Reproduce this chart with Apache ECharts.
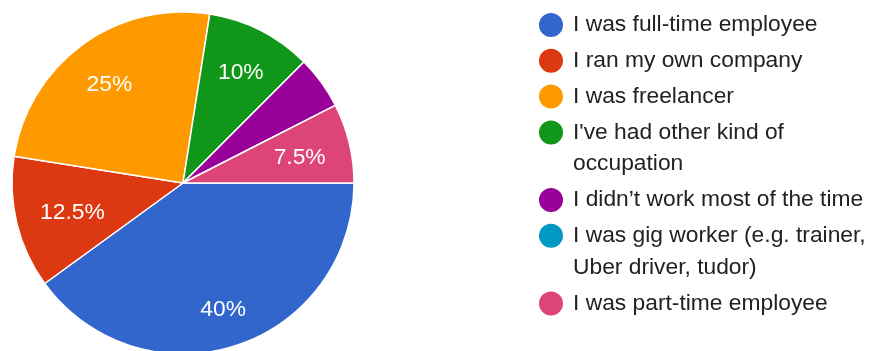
<!DOCTYPE html>
<html>
<head>
<meta charset="utf-8">
<script src="https://cdn.jsdelivr.net/npm/echarts@6/dist/echarts.min.js"></script>
<style>
  html, body { margin: 0; padding: 0; background: #ffffff; }
  #chart { width: 869px; height: 351px; }
</style>
</head>
<body>
<div id="chart"></div>
<script>
// Survey answers and their share of respondents (percent)
const categories = [
  'I was full-time employee',
  'I ran my own company',
  'I was freelancer',
  "I've had other kind of occupation",
  'I didn’t work most of the time',
  'I was gig worker (e.g. trainer, Uber driver, tudor)',
  'I was part-time employee'
];
const shares = [40, 12.5, 25, 10, 5, 0, 7.5];
const sliceColors = ['#3366cc', '#dc3912', '#ff9900', '#109618', '#990099', '#0099c6', '#dd4477'];

// Layout and typography
const PIE_CENTER = [183, 183];
const PIE_RADIUS = 171;
const FONT = '"Liberation Sans", Arial, sans-serif';
const FONT_SIZE = 22.8;
const LABEL_NUDGE_Y = 3;
const MIN_LABEL_SHARE = 0.06;

const LEGEND_LEFT = 539;
const LEGEND_FIRST_CENTER = 25;   // centre of the first legend marker
const LEGEND_STEP = 35.8;         // marker-to-marker distance for one-line entries
const LEGEND_LINE = 31.8;         // line height of legend text
const LEGEND_TEXT_WIDTH = 296;    // wrap width of legend text
const MARKER = 24;                // marker diameter
const MARKER_TEXT_SPACE = 34;     // marker left edge to text start (incl. 5px built-in gap)

const total = shares.reduce((a, b) => a + b, 0);

// Word-wrap legend text to the available width
const measureCtx = document.createElement('canvas').getContext('2d');
measureCtx.font = FONT_SIZE + 'px ' + FONT;
function wrapLines(text) {
  const words = text.split(' ');
  const lines = [];
  let line = '';
  words.forEach(w => {
    const trial = line ? line + ' ' + w : w;
    if (line && measureCtx.measureText(trial).width > LEGEND_TEXT_WIDTH) {
      lines.push(line);
      line = w;
    } else {
      line = trial;
    }
  });
  if (line) lines.push(line);
  return lines;
}

// Marker path: a circle at the top-left of a box as tall as the text block,
// so the marker sits beside the first line of a wrapped entry
function markerPath(boxHeight) {
  const r = MARKER / 2;
  const w = MARKER_TEXT_SPACE - 5;
  return 'path://M0,' + r +
    'A' + r + ',' + r + ',0,1,1,' + MARKER + ',' + r +
    'A' + r + ',' + r + ',0,1,1,0,' + r + 'Z' +
    'M' + w + ',' + boxHeight + 'L' + w + ',' + boxHeight + 'Z';
}

// One legend block per answer, stacked top to bottom
const legends = [];
let markerCenter = LEGEND_FIRST_CENTER;
categories.forEach((name, i) => {
  const lines = wrapLines(name);
  const boxHeight = MARKER + (lines.length - 1) * LEGEND_LINE;
  legends.push({
    orient: 'vertical',
    left: LEGEND_LEFT,
    top: markerCenter - LEGEND_LINE / 2,
    padding: 0,
    itemWidth: MARKER_TEXT_SPACE - 5,
    itemHeight: boxHeight,
    icon: markerPath(boxHeight),
    selectedMode: false,
    itemStyle: { borderWidth: 0 },
    formatter: () => lines.join('\n'),
    textStyle: {
      fontFamily: FONT,
      fontSize: FONT_SIZE,
      color: '#222222',
      lineHeight: LEGEND_LINE
    },
    data: [name]
  });
  markerCenter += LEGEND_STEP + (lines.length - 1) * LEGEND_LINE;
});

const pieData = categories.map((name, i) => ({
  name: name,
  value: shares[i],
  label: { show: total > 0 && shares[i] / total >= MIN_LABEL_SHARE }
}));

const chart = echarts.init(document.getElementById('chart'), null, { renderer: 'canvas' });

chart.setOption({
  backgroundColor: '#ffffff',
  animation: false,
  color: sliceColors,
  legend: legends,
  series: [{
    type: 'pie',
    center: PIE_CENTER,
    radius: PIE_RADIUS,
    startAngle: 0,
    clockwise: true,
    avoidLabelOverlap: false,
    silent: true,
    itemStyle: { borderColor: '#ffffff', borderWidth: 1.5 },
    emphasis: { disabled: true },
    label: {
      position: 'inside',
      formatter: '{d}%',
      color: '#ffffff',
      fontFamily: FONT,
      fontSize: FONT_SIZE
    },
    labelLine: { show: false },
    // Push each percentage outward along its slice so the text sits near the rim
    labelLayout: function (p) {
      const r = p.labelRect;
      const dx = r.x + r.width / 2 - PIE_CENTER[0];
      const dy = r.y + r.height / 2 - PIE_CENTER[1];
      const len = Math.hypot(dx, dy) || 1;
      const ux = dx / len;
      const uy = dy / len;
      const reach = PIE_RADIUS * 0.865;
      const dist = reach - Math.abs(ux) * r.width / 2 - Math.abs(uy) * r.height / 2;
      return { x: PIE_CENTER[0] + ux * dist, y: PIE_CENTER[1] + uy * dist + LABEL_NUDGE_Y };
    },
    data: pieData
  }]
});
</script>
</body>
</html>
